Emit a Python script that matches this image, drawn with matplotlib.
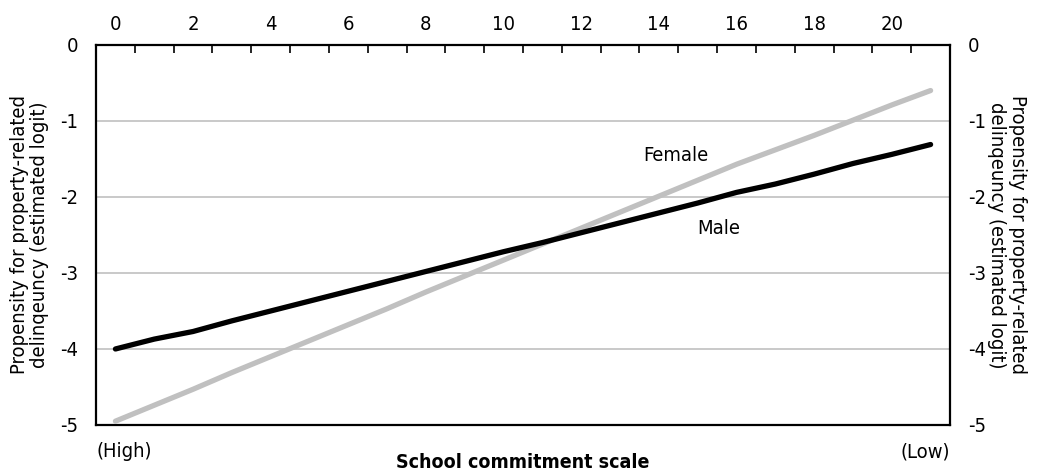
import matplotlib
matplotlib.use("Agg")
import matplotlib.pyplot as plt
from matplotlib import font_manager

# School commitment scale 0..21 (0 = high commitment, 21 = low)
scale = list(range(22))
male = [-4.00, -3.87, -3.77, -3.63, -3.50, -3.37, -3.24, -3.11, -2.98, -2.85, -2.72,
        -2.60, -2.47, -2.34, -2.21, -2.08, -1.94, -1.83, -1.70, -1.56, -1.44, -1.31]
female = [-4.95, -4.74, -4.53, -4.31, -4.10, -3.89, -3.68, -3.47, -3.25, -3.04, -2.83,
          -2.62, -2.41, -2.20, -1.99, -1.78, -1.57, -1.38, -1.19, -0.99, -0.79, -0.60]
top_ticks = list(range(0, 21, 2))
y_ticks = [0, -1, -2, -3, -4, -5]
ylab = "Propensity for property-related\ndelinqeuncy (estimated logit)"

names = {f.name for f in font_manager.fontManager.ttflist}
fam = "Liberation Sans Narrow" if "Liberation Sans Narrow" in names else "DejaVu Sans"
plt.rcParams['font.family'] = [fam, 'DejaVu Sans']
plt.rcParams['font.stretch'] = 'condensed'
fs = 14.5

fig = plt.figure(figsize=(10.37, 4.73), dpi=100)
ax = fig.add_axes([0.0926, 0.1015, 0.8235, 0.8035])

ax.plot(scale, female, color="#c0c0c0", lw=3.8, solid_capstyle="round", zorder=3)
ax.plot(scale, male, color="black", lw=3.8, solid_capstyle="round", zorder=4)

ax.set_xlim(-0.5, 21.5)
ax.set_ylim(-5, 0)
for y in y_ticks[1:-1]:
    ax.axhline(y, color="#c0c0c0", lw=1.2, zorder=1)

# category tick marks along the top, between categories
ax.xaxis.tick_top()
ax.set_xticks([i + 0.5 for i in range(21)])
ax.set_xticklabels([])
ax.tick_params(axis="x", direction="in", length=6, width=1.2, top=True, bottom=False)
for t in top_ticks:
    ax.text(t, 1.03, str(t), transform=ax.get_xaxis_transform(), ha="center",
            va="bottom", fontsize=fs)

ax.set_yticks(y_ticks)
ax.set_yticklabels([str(v) for v in y_ticks], fontsize=fs)
ax.tick_params(axis="y", length=0, pad=13, left=True, right=True,
               labelleft=True, labelright=True)
for s in ax.spines.values():
    s.set_linewidth(1.6)

ax.text(-0.078, 0.5, ylab, transform=ax.transAxes, rotation=90, ha="center",
        va="center", fontsize=fs, linespacing=1.1)
ax.text(1.067, 0.5, ylab, transform=ax.transAxes, rotation=270, ha="center",
        va="center", fontsize=fs, linespacing=1.1)

ax.text(0, -0.045, "(High)", transform=ax.transAxes, ha="left", va="top", fontsize=fs)
ax.text(1, -0.045, "(Low)", transform=ax.transAxes, ha="right", va="top", fontsize=fs)
ax.text(0.5, -0.098, "School commitment scale", transform=ax.transAxes, ha="center",
        va="center", fontsize=fs - 0.5, fontweight="bold")

ax.text(14.45, -1.45, "Female", ha="center", va="center", fontsize=fs)
ax.text(15.55, -2.42, "Male", ha="center", va="center", fontsize=fs)

fig.savefig("out.png", dpi=100)
